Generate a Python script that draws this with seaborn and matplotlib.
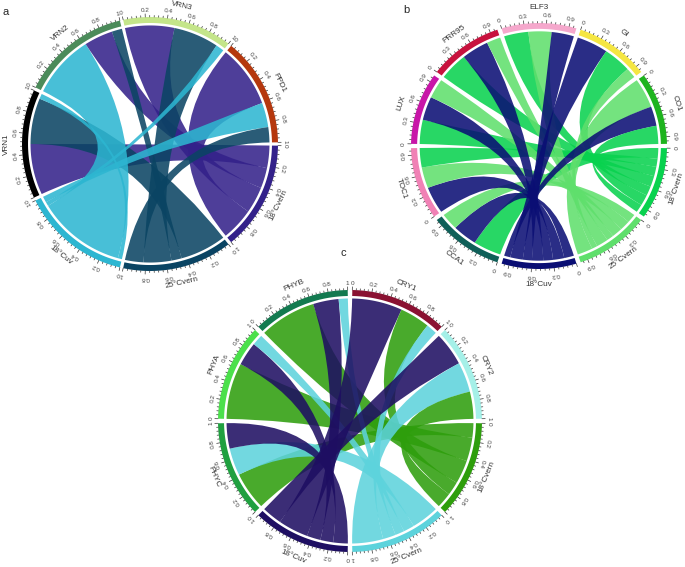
import numpy as np
import matplotlib
matplotlib.use("Agg")
import matplotlib.pyplot as plt
import seaborn as sns
from matplotlib.path import Path
from matplotlib.patches import PathPatch, Polygon

sns.set_theme(style="white")
plt.rcParams['font.family'] = ['Liberation Sans', 'DejaVu Sans']

# ---------------- panel a ----------------
a_conds = ["18°Cvern", "25°Cvern", "18°Cuv"]
a_genes = ["VRN1", "VRN2", "VRN3", "PPD1"]
a_cond_colors = ["#33218A", "#0A4463", "#2DB6D1"]
a_gene_colors = ["#000000", "#4B8B5A", "#C4E58A", "#B5380E"]
# fraction of each gene sector going to each condition (cols = a_conds)
a_gene_share = [[0.50, 0.45, 0.05],
                [0.28, 0.10, 0.62],
                [0.48, 0.44, 0.08],
                [0.61, 0.15, 0.24]]
# fraction of each condition sector coming from each gene (cols = a_genes)
a_cond_share = [[0.22, 0.20, 0.26, 0.32],
                [0.45, 0.10, 0.27, 0.18],
                [0.04, 0.86, 0.04, 0.06]]
a_ticks = [0, 0.2, 0.4, 0.6, 0.8, 1]

# ---------------- panel b ----------------
b_conds = ["18°Cvern", "25°Cvern", "18°Cuv"]
b_genes = ["CCA1", "TOC1", "LUX", "PRR95", "ELF3", "GI", "CO1"]
b_cond_colors = ["#08D24E", "#5FDF6C", "#0A0E74"]
b_gene_colors = ["#0F5F58", "#F081B5", "#C816A8", "#C8123E",
                 "#F5A8CC", "#F5E642", "#1EB41E"]
b_gene_share = [[0.40, 0.25, 0.35],
                [0.29, 0.31, 0.40],
                [0.36, 0.29, 0.35],
                [0.41, 0.20, 0.39],
                [0.35, 0.33, 0.32],
                [0.40, 0.15, 0.45],
                [0.27, 0.44, 0.29]]
b_cond_share = [[0.16, 0.12, 0.14, 0.16, 0.14, 0.16, 0.12],
                [0.13, 0.15, 0.15, 0.10, 0.17, 0.08, 0.22],
                [0.14, 0.16, 0.14, 0.16, 0.13, 0.18, 0.09]]
b_ticks = [0, 0.3, 0.6, 0.9]

# ---------------- panel c ----------------
c_conds = ["18°Cvern", "25°Cvern", "18°Cuv"]
c_genes = ["PHYC", "PHYA", "PHYB", "CRY1", "CRY2"]
c_cond_colors = ["#2E9E0C", "#5DD3DC", "#1E0E62"]
c_gene_colors = ["#20A040", "#4BE04B", "#137A50", "#8A1232", "#A5F0E8"]
c_gene_share = [[0.42, 0.30, 0.28],
                [0.62, 0.12, 0.26],
                [0.62, 0.10, 0.28],
                [0.33, 0.12, 0.55],
                [0.30, 0.33, 0.37]]
c_cond_share = [[0.16, 0.26, 0.26, 0.15, 0.17],
                [0.30, 0.12, 0.10, 0.14, 0.34],
                [0.16, 0.14, 0.15, 0.33, 0.22]]
c_ticks = [0, 0.2, 0.4, 0.6, 0.8, 1]


def pt(cx, cy, rx, ry, th, rho):
    t = np.radians(th)
    return cx + rho * rx * np.cos(t), cy + rho * ry * np.sin(t)


def arc(cx, cy, rx, ry, t0, t1, rho, n=40):
    t = np.radians(np.linspace(t0, t1, n))
    return np.column_stack([cx + rho * rx * np.cos(t), cy + rho * ry * np.sin(t)])


def chord(ax, cx, cy, rx, ry, conds, genes, cond_colors, gene_colors,
          gene_share, cond_share, ticks, gap, tick_pad, name_pad):
    sectors = conds + genes
    colors = cond_colors + gene_colors
    n = len(sectors)
    width = 360 / n - gap
    start = [i * 360 / n + gap / 2 for i in range(n)]
    rmean = (rx + ry) / 2
    ring_in = 1 - 6 / rmean
    link_r = 1 - 8.5 / rmean

    # outer track, ticks and labels
    for i, name in enumerate(sectors):
        t0, t1 = start[i], start[i] + width
        poly = np.vstack([arc(cx, cy, rx, ry, t0, t1, 1.0),
                          arc(cx, cy, rx, ry, t1, t0, ring_in)])
        ax.add_patch(Polygon(poly, closed=True, fc=colors[i], ec="none", zorder=3))
        step = ticks[1] - ticks[0]
        minor = np.arange(0, 1 + 1e-9, step / 5)
        for v in minor:
            th = t0 + v * width
            major = np.isclose((v / step) - round(v / step), 0)
            x0, y0 = pt(cx, cy, rx, ry, th, 1.0)
            x1, y1 = pt(cx, cy, rx, ry, th, 1 + (3.2 if major else 1.6) / rmean)
            ax.plot([x0, x1], [y0, y1], color="#333333", lw=0.5, zorder=3)
        for v in ticks:
            th = t0 + v * width
            x, y = pt(cx, cy, rx, ry, th, 1 + tick_pad / rmean)
            rot = (-th - 90) % 360
            ax.text(x, y, f"{v:g}", fontsize=4.6, color="#444444", rotation=rot,
                    ha="center", va="center", rotation_mode="anchor", zorder=4)
        thm = t0 + width / 2
        x, y = pt(cx, cy, rx, ry, thm, 1 + name_pad / rmean)
        rot = -thm - 90
        if 0 < thm % 360 < 180:
            rot += 180
        ax.text(x, y, name, fontsize=5.9, color="#333333", rotation=rot % 360,
                ha="center", va="center", rotation_mode="anchor", zorder=4)

    nc = len(conds)
    # positions of every link on the condition sectors (genes in clockwise order)
    cpos = {}
    for ci in range(nc):
        acc = 0.0
        for gi in range(len(genes)):
            w = cond_share[ci][gi]
            cpos[(gi, ci)] = (start[ci] + acc * width, start[ci] + (acc + w) * width)
            acc += w
    # positions on gene sectors (largest share first) and drawing
    for gi in range(len(genes)):
        si = nc + gi
        order = np.argsort(-np.array(gene_share[gi]), kind="stable")
        acc = 0.0
        for ci in order:
            w = gene_share[gi][ci]
            s1, e1 = start[si] + acc * width, start[si] + (acc + w) * width
            acc += w
            s2, e2 = cpos[(gi, ci)]
            a1 = arc(cx, cy, rx, ry, s1, e1, link_r)
            a2 = arc(cx, cy, rx, ry, s2, e2, link_r)
            verts = list(a1) + [(cx, cy), a2[0]] + list(a2[1:]) + [(cx, cy), a1[0], a1[0]]
            codes = ([Path.MOVETO] + [Path.LINETO] * (len(a1) - 1) +
                     [Path.CURVE3, Path.CURVE3] + [Path.LINETO] * (len(a2) - 1) +
                     [Path.CURVE3, Path.CURVE3, Path.CLOSEPOLY])
            ax.add_patch(PathPatch(Path(verts, codes), fc=cond_colors[ci],
                                   ec="none", alpha=0.87, zorder=2))


fig = plt.figure(figsize=(6.85, 5.67), dpi=100)
ax = fig.add_axes([0, 0, 1, 1])
ax.set_xlim(0, 685)
ax.set_ylim(567, 0)
ax.axis("off")

chord(ax, 150, 144, 128, 127, a_conds, a_genes, a_cond_colors, a_gene_colors,
      a_gene_share, a_cond_share, a_ticks, gap=1.5, tick_pad=7, name_pad=15)
chord(ax, 539, 146, 128, 123, b_conds, b_genes, b_cond_colors, b_gene_colors,
      b_gene_share, b_cond_share, b_ticks, gap=2.0, tick_pad=7.5, name_pad=16)
chord(ax, 350, 421, 132, 131, c_conds, c_genes, c_cond_colors, c_gene_colors,
      c_gene_share, c_cond_share, c_ticks, gap=2.0, tick_pad=7, name_pad=15.5)

ax.text(6, 12, "a", fontsize=8, ha="center", va="center")
ax.text(406, 10, "b", fontsize=8, ha="center", va="center")
ax.text(343, 253, "c", fontsize=8, ha="center", va="center")

fig.savefig("out.png", dpi=100)
